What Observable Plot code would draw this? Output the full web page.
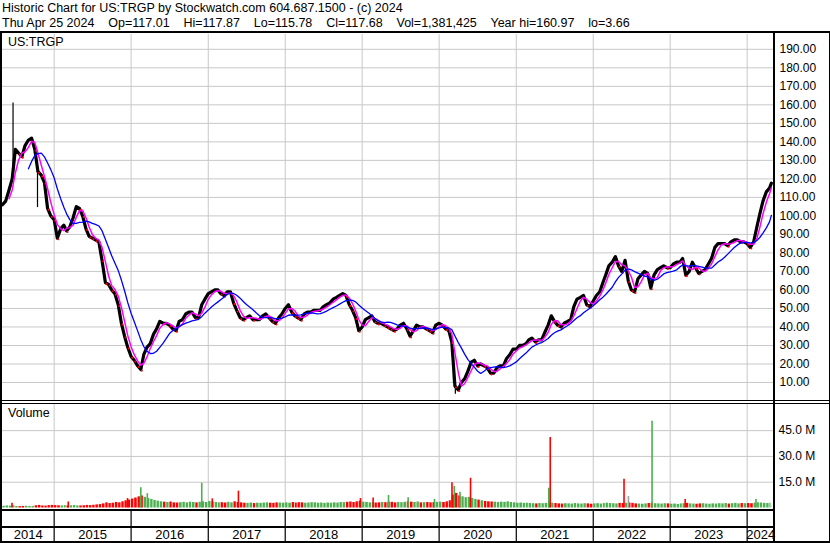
<!DOCTYPE html>
<html>
<head>
<meta charset="utf-8">
<script src="https://cdn.jsdelivr.net/npm/d3@7"></script>
<script src="https://cdn.jsdelivr.net/npm/@observablehq/plot@0.6"></script>
<style>
  html,body{margin:0;padding:0;background:#fff;}
  #chart{position:relative;width:830px;height:543px;overflow:hidden;background:#fff;font-family:"Liberation Sans",Arial,sans-serif;color:#000;}
  #chart svg{position:absolute;left:0;top:0;}
  .t{position:absolute;white-space:pre;line-height:1;}
  .b{position:absolute;background:#000;}
</style>
</head>
<body>
<div id="chart"></div>
<script>
// ---------- DATA (semi-monthly closes) ----------
const c2014 = [106,108,114,120,136,134,132,138,141,142,136,124,122,118,104,100]; // from May
const c2015 = [98,88,93,95,92,94,99,105,104,100,93,89,88,87,86,76,64,63,60,58,52,42,35,29];
const c2016 = [24,22,19,17,25,29,31,36,39,43,42,42,41,39,38,43,44,47,48,48,45,45,52,55];
const c2017 = [58,59,60,60,58,57,59,59,53,49,45,44,45,46,44,44,44,46,47,45,43,42,45,47];
const c2018 = [50,52,48,46,45,44,47,48,48,49,49,49,51,52,53,55,56,57,58,57,52,49,45,38];
const c2019 = [40,44,45,46,43,42,42,41,40,39,38,39,41,42,39,35,38,41,40,40,39,38,37,41];
const c2020 = [42,41,39,38,32,8,6,10,12,16,21,22,19,20,19,18,15,15,18,19,19,23,25,28];
const c2021 = [28,30,30,31,33,34,32,33,33,37,41,46,43,41,40,42,43,44,51,55,56,57,52,51];
const c2022 = [54,57,59,64,68,73,75,78,73,70,76,65,60,59,66,68,70,69,61,68,71,72,73,72];
const c2023 = [72,74,75,75,77,68,70,75,72,69,70,71,74,77,83,85,85,85,84,86,87,87,86,86];
const c2024 = [85,83,86,94,101,108,113,115];

// semi-monthly volume (millions)
const v2014 = [1.0,1.2,1.1,1.3,0.9,0.8,0.9,1.0,0.9,0.9,1.3,1.5,1.2,1.1,1.4,1.5];
const v2015 = [1.4,1.3,1.2,1.4,1.2,1.3,1.4,1.2,1.2,1.3,1.5,1.4,1.6,1.8,2.0,2.4,3.0,2.6,2.8,3.2,3.0,3.6,4.2,4.6];
const v2016 = [5.2,5.8,6.5,7.0,6.2,5.5,5.0,4.4,4.0,3.6,3.4,3.2,3.5,3.0,2.9,3.1,3.3,3.0,3.4,3.2,3.0,3.3,3.6,3.2];
const v2017 = [3.8,3.5,3.2,3.0,3.1,2.9,3.3,3.0,3.6,3.2,3.0,2.8,2.7,2.9,2.6,2.8,2.7,2.9,3.0,2.8,2.7,3.0,2.9,2.8];
const v2018 = [3.0,2.8,3.2,2.9,3.1,3.0,2.8,2.9,3.1,3.0,2.8,2.9,2.7,2.9,2.8,3.0,2.9,3.2,3.1,3.3,3.5,3.2,3.6,4.0];
const v2019 = [3.4,3.2,3.0,3.1,2.9,3.0,3.2,3.1,3.4,3.3,3.0,3.2,3.1,3.3,3.6,3.4,3.2,3.5,3.0,3.1,3.2,3.0,3.1,3.3];
const v2020 = [3.4,3.2,3.6,4.2,7.5,8.5,7.0,6.5,6.0,6.2,5.5,5.0,4.6,4.2,3.8,3.6,3.5,3.4,3.2,3.4,3.3,3.6,3.2,3.0];
const v2021 = [2.8,2.9,2.7,2.8,2.6,2.5,2.4,2.6,2.5,2.7,2.9,2.8,2.6,2.4,2.3,2.5,2.4,2.3,2.6,2.4,2.3,2.5,2.4,2.2];
const v2022 = [2.4,2.5,2.3,2.6,2.8,2.6,2.5,2.4,2.7,2.6,2.8,2.9,2.7,2.4,2.3,2.2,2.4,2.6,2.8,2.5,2.4,2.3,2.5,2.4];
const v2023 = [2.2,2.3,2.1,2.4,2.5,2.7,2.4,2.3,2.2,2.4,2.5,2.3,2.2,2.4,2.3,2.5,2.4,2.6,2.3,2.5,2.7,2.4,2.6,2.5];
const v2024 = [2.6,2.5,2.8,3.0,2.9,2.7,2.6,2.8];

const lastDate = "2024-04-25", lastClose = 117.68, lastVol = 1.381425;

// single-day extremes (date, low, high)
const wickDates = ["2014-06-20","2014-10-14","2020-03-09","2020-03-18"];
const wickLows  = [122, 104.5, 9.5, 3.66];
const wickHighs = [160.97, 126, 22, 9];

// volume spikes (date, millions, direction)
const spikeDates = ["2014-06-15","2015-03-09","2015-12-15","2016-02-16","2016-03-18","2016-12-01","2017-01-20","2017-05-24","2018-12-24","2019-02-22","2019-05-06","2019-08-07","2019-12-10","2020-03-02","2020-03-13","2020-04-09","2020-05-29","2021-06-04","2021-06-11","2022-05-27","2022-06-17","2022-10-07","2023-03-13","2024-02-12"];
const spikeVols  = [2.8,3.5,5.5,11.8,8.3,14.4,5.3,9.8,5.5,5.8,7.3,6.0,5.0,14.7,12.5,9.2,17.3,11.5,41.0,16.7,6.7,50.5,5.0,5.0];
const spikeDirs  = ["d","d","d","u","u","u","d","d","d","d","u","u","u","d","u","u","d","u","d","d","n","u","d","u"];

const priceTicks = [10,20,30,40,50,60,70,80,90,100,110,120,130,140,150,160,170,180,190];
const volTicks = [15,30,45];
const yearLabels = ["2014","2015","2016","2017","2018","2019","2020","2021","2022","2023","2024"];

const headerTitle = "Historic Chart for US:TRGP by Stockwatch.com 604.687.1500 - (c) 2024";
const quoteParts = ["Thu Apr 25 2024","Op=117.01","Hi=117.87","Lo=115.78","Cl=117.68","Vol=1,381,425","Year hi=160.97","lo=3.66"];
const symbolLabel = "US:TRGP";
const volumeLabel = "Volume";

// ---------- BUILD TABLES ----------
const years = [[2014,4,c2014,v2014],[2015,0,c2015,v2015],[2016,0,c2016,v2016],[2017,0,c2017,v2017],
  [2018,0,c2018,v2018],[2019,0,c2019,v2019],[2020,0,c2020,v2020],[2021,0,c2021,v2021],
  [2022,0,c2022,v2022],[2023,0,c2023,v2023],[2024,0,c2024,v2024]];
const rows = [];
for (const [yr, m0, cs, vs] of years) {
  cs.forEach((c, i) => rows.push({date: new Date(Date.UTC(yr, m0 + Math.floor(i / 2), i % 2 ? 16 : 1)), close: c, vol: vs[i]}));
}
rows.push({date: new Date(lastDate), close: lastClose, vol: lastVol});
const xEnd = new Date("2024-05-05");
rows.forEach((d, i) => {
  d.next = i < rows.length - 1 ? rows[i + 1].date : new Date("2024-04-30");
  d.down = i > 0 && d.close < rows[i - 1].close;
});
const wicks = wickDates.map((d, i) => ({date: new Date(d), lo: wickLows[i], hi: wickHighs[i]}));
const spikes = spikeDates.map((d, i) => ({date: new Date(d), vol: spikeVols[i], dir: spikeDirs[i]}));

const xStart = new Date("2014-05-01");
const yearStarts = yearLabels.slice(1).map(y => new Date(`${y}-01-01`));
const bounds = [xStart, ...yearStarts, new Date("2024-05-08")];
const yearCells = yearLabels.map((y, i) => ({year: y, mid: new Date((+bounds[i] + +bounds[i + 1]) / 2)}));

// ---------- STYLE ----------
const RED = "#ff0000", GREEN = "#4caf50", GRAY = "#a0a0a0", GRID = "#c8c8c8";
const common = {
  width: 830, height: 543, marginLeft: 2, marginRight: 57,
  style: {background: "none", fontFamily: "'Liberation Sans', Arial, sans-serif", fontSize: "12px", color: "#000", overflow: "visible"}
};
const X = {type: "utc", domain: [xStart, xEnd], axis: null};

const pricePlot = Plot.plot({
  ...common, marginTop: 34, marginBottom: 142.5,
  x: X, y: {domain: [0, 198], axis: null},
  marks: [
    Plot.ruleY(priceTicks, {stroke: GRID}),
    Plot.ruleX(yearStarts, {stroke: GRID}),
    Plot.ruleX(wicks, {x: "date", y1: "lo", y2: "hi", stroke: "#000", strokeWidth: 1.2}),
    Plot.line(rows, {x: "date", y: "close", stroke: "#000", strokeWidth: 3.2}),
    Plot.dot(rows.filter(d => d.down), {x: "date", y: "close", r: 1, fill: RED, dx: 1, dy: 1.2}),
    Plot.lineY(rows, Plot.windowY({k: 3, anchor: "end", strict: true}, {x: "date", y: "close", stroke: "#ff00ff", strokeWidth: 1.5})),
    Plot.lineY(rows, Plot.windowY({k: 9, anchor: "end", strict: true}, {x: "date", y: "close", stroke: "#0000ff", strokeWidth: 1.3})),
    Plot.axisY(priceTicks, {anchor: "right", tickSize: 0, tickPadding: 6, tickFormat: d => d.toFixed(2), fontSize: 12, label: null})
  ]
});

const volPlot = Plot.plot({
  ...common, marginTop: 403.5, marginBottom: 35.5,
  x: X, y: {domain: [0, 60.5], axis: null},
  marks: [
    Plot.ruleY(volTicks, {stroke: GRID}),
    Plot.ruleX(yearStarts, {stroke: GRID}),
    Plot.rectY(rows, {x1: "date", x2: "next", y: "vol", fill: d => d.down ? RED : GREEN, insetLeft: 0.4, insetRight: 0.4}),
    Plot.ruleX(spikes, {x: "date", y1: 0, y2: "vol", stroke: d => d.dir === "u" ? GREEN : d.dir === "d" ? RED : GRAY, strokeWidth: 1.6}),
    Plot.axisY(volTicks, {anchor: "right", tickSize: 0, tickPadding: 5, tickFormat: d => d.toFixed(1) + " M", fontSize: 12, label: null})
  ]
});

const yearPlot = Plot.plot({
  ...common, marginTop: 510, marginBottom: 0,
  x: X, y: {domain: [0, 1], axis: null},
  marks: [
    Plot.ruleX(yearStarts, {stroke: "#000", strokeWidth: 1.2}),
    Plot.text(yearCells, {x: "mid", y: 0.25, text: "year", fontSize: 13, fill: "#000"})
  ]
});

// ---------- ASSEMBLE ----------
const root = document.getElementById("chart");
function txt(s, left, top, size) {
  const d = document.createElement("div");
  d.className = "t"; d.textContent = s;
  d.style.left = left + "px"; d.style.top = top + "px"; d.style.fontSize = size + "px";
  root.appendChild(d);
}
txt(headerTitle, 2, 2, 12.5);
txt(quoteParts.join("    "), 2, 16.5, 12.5);
root.appendChild(pricePlot);
root.appendChild(volPlot);
root.appendChild(yearPlot);
txt(symbolLabel, 8, 36, 12.5);
txt(volumeLabel, 8, 407, 12.5);
function bar(l, t, w, h) {
  const d = document.createElement("div");
  d.className = "b";
  Object.assign(d.style, {left: l + "px", top: t + "px", width: w + "px", height: h + "px"});
  root.appendChild(d);
}
bar(0, 31, 830, 2);     // header rule
bar(0, 400, 830, 1);    // double rule
bar(0, 403, 830, 1);
bar(0, 509, 774, 2);    // volume bottom
bar(0, 526, 774, 2);    // year row
bar(0, 541, 830, 2);    // bottom
bar(0, 31, 2, 512);     // left
bar(773, 31, 2, 512);   // right axis line
bar(829, 31, 1, 512);   // right edge
</script>
</body>
</html>
